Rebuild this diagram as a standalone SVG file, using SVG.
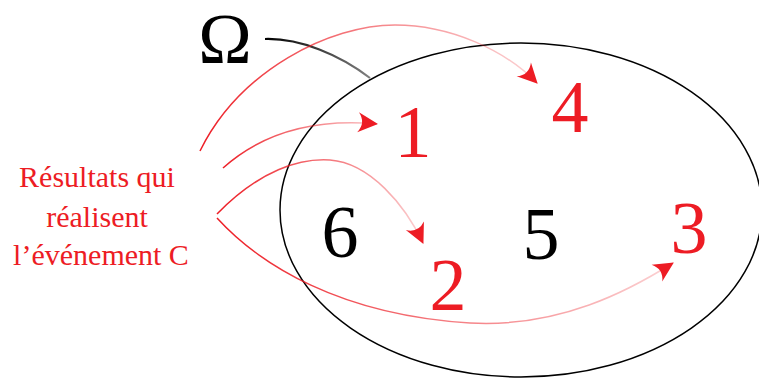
<svg xmlns="http://www.w3.org/2000/svg" width="759" height="378" viewBox="0 0 759 378">
<style>
.num{font-family:"Liberation Serif","DejaVu Serif",serif;font-size:74px;text-anchor:middle}
.red{fill:#ED1C24}
.blk{fill:#000}
.lbl{font-family:"Liberation Serif","DejaVu Serif",serif;font-size:30px;text-anchor:middle;fill:#ED1C24}
.arr{fill:none;stroke-width:1.5;marker-end:url(#ah)}
</style>
<defs>
<marker id="ah" viewBox="-21 -11 23 22" refX="0" refY="0" markerWidth="23" markerHeight="22" orient="auto" markerUnits="userSpaceOnUse">
<path d="M1,0 L-19,-10 Q-11,0 -19,10 Z" fill="#ED1C24"/>
</marker>
<linearGradient id="g1" gradientUnits="userSpaceOnUse" x1="200" y1="151" x2="537" y2="83"><stop offset="0" stop-color="#ED1C24"/><stop offset="1" stop-color="#ED1C24" stop-opacity="0.2"/></linearGradient>
<linearGradient id="g2" gradientUnits="userSpaceOnUse" x1="223" y1="168" x2="377" y2="124"><stop offset="0" stop-color="#ED1C24"/><stop offset="1" stop-color="#ED1C24" stop-opacity="0.25"/></linearGradient>
<linearGradient id="g3" gradientUnits="userSpaceOnUse" x1="217" y1="214" x2="423" y2="243"><stop offset="0" stop-color="#ED1C24"/><stop offset="1" stop-color="#ED1C24" stop-opacity="0.2"/></linearGradient>
<linearGradient id="g4" gradientUnits="userSpaceOnUse" x1="217" y1="218" x2="673" y2="263"><stop offset="0" stop-color="#ED1C24"/><stop offset="1" stop-color="#ED1C24" stop-opacity="0.2"/></linearGradient>
<linearGradient id="g0" gradientUnits="userSpaceOnUse" x1="265" y1="39" x2="370" y2="78"><stop offset="0" stop-color="#000"/><stop offset="1" stop-color="#000" stop-opacity="0.5"/></linearGradient>
</defs>
<g id="universe">
<ellipse cx="521" cy="210" rx="241" ry="167" fill="none" stroke="#000" stroke-width="1.5"/>
</g>
<g id="connectors">
<path d="M265,39 C300,38 340,55 370,78" fill="none" stroke="url(#g0)" stroke-width="2.2"/>
<path class="arr" stroke="url(#g1)" d="M200,151 C240,70 330,25 395,25 C450,25 505,50 537,83"/>
<path class="arr" stroke="url(#g2)" d="M223,168 C260,135 310,118 377,124"/>
<path class="arr" stroke="url(#g3)" d="M217,214 C260,170 300,158 330,160 C370,163 405,205 423,243"/>
<path class="arr" stroke="url(#g4)" d="M217,218 C260,265 340,315 470,323 C560,328 630,290 673,263"/>
</g>
<g id="omega"><text class="num blk" x="225" y="63" style="font-size:72px">Ω</text></g>
<g id="n1"><text class="num red" x="413" y="157">1</text></g>
<g id="n2"><text class="num red" x="448" y="310">2</text></g>
<g id="n3"><text class="num red" x="689" y="253">3</text></g>
<g id="n4"><text class="num red" x="570" y="132">4</text></g>
<g id="n5"><text class="num blk" x="541" y="259">5</text></g>
<g id="n6"><text class="num blk" x="340" y="257">6</text></g>
<g id="label">
<text class="lbl" x="97" y="187">Résultats qui</text>
<text class="lbl" x="97" y="227">réalisent</text>
<text class="lbl" x="101" y="265">l’événement C</text>
</g>
</svg>
